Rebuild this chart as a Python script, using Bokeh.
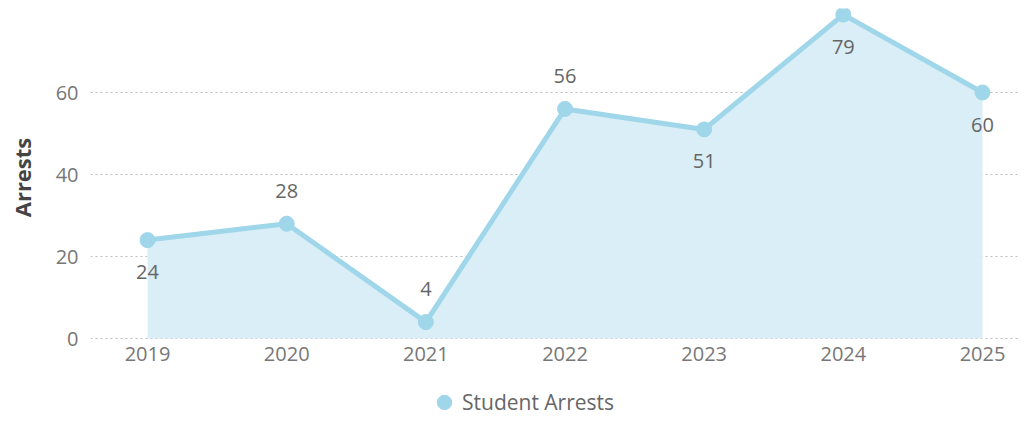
from bokeh.plotting import figure
from bokeh.layouts import column
from bokeh.models import ColumnDataSource, Range1d, FixedTicker, Legend, LegendItem
from bokeh.core.properties import value
from bokeh.embed import file_html
from bokeh.resources import INLINE

years = [2019, 2020, 2021, 2022, 2023, 2024, 2025]
arrests = [24, 28, 4, 56, 51, 79, 60]
series_name = "Student Arrests"
y_ticks = [0, 20, 40, 60]
label_side = ["below", "above", "above", "above", "below", "below", "below"]

FONT = "Open Sans"
LINE = "#9fd6ea"
FILL = "#d9eef6"

src = ColumnDataSource(dict(
    x=years, y=arrests, base=[0] * len(years),
    lab=[str(v) for v in arrests],
    off=[32 if s == "below" else -33 for s in label_side],
))

p = figure(width=1027, height=374, output_backend="svg", toolbar_location=None,
           x_range=Range1d(2018.59, 2025.273), y_range=Range1d(-1.95, 80.49),
           min_border_left=90, min_border_right=7, min_border_top=8, min_border_bottom=28)
p.outline_line_color = None
p.background_fill_color = "white"
p.border_fill_color = "white"

p.varea(x="x", y1="base", y2="y", source=src, fill_color=FILL, fill_alpha=1)
p.line(x="x", y="y", source=src, line_color=LINE, line_width=5)
p.scatter(x="x", y="y", source=src, size=15, fill_color=LINE, line_color=LINE)
p.text(x="x", y="y", text="lab", source=src, y_offset="off",
       text_align="center", text_baseline="middle", text_font=value(FONT),
       text_font_size="20px", text_color="#666666")

# grid
p.xgrid.visible = False
p.ygrid.ticker = FixedTicker(ticks=y_ticks)
p.ygrid.grid_line_color = "#bdbdbd"
p.ygrid.grid_line_dash = "2 3"
p.ygrid.grid_line_width = 1

# axes
p.xaxis.ticker = FixedTicker(ticks=years)
p.yaxis.ticker = FixedTicker(ticks=y_ticks)
for ax in (p.xaxis[0], p.yaxis[0]):
    ax.axis_line_color = None
    ax.major_tick_line_color = None
    ax.minor_tick_line_color = None
    ax.major_tick_in = 0
    ax.major_tick_out = 0
    ax.minor_tick_in = 0
    ax.minor_tick_out = 0
    ax.major_label_text_font = FONT
    ax.major_label_text_font_size = "20px"
    ax.major_label_text_color = "#777777"
p.xaxis.major_label_standoff = 0
p.yaxis.major_label_standoff = 12
p.yaxis.axis_label = "Arrests"
p.yaxis.axis_label_text_font = FONT
p.yaxis.axis_label_text_font_size = "22px"
p.yaxis.axis_label_text_font_style = "bold"
p.yaxis.axis_label_text_color = "#444444"
p.yaxis.axis_label_standoff = 16

# legend strip below the chart (series drawn out of view; only its legend shows)
lg = figure(width=1027, height=42, output_backend="svg", toolbar_location=None,
            x_range=Range1d(0, 1), y_range=Range1d(0, 1),
            min_border_left=0, min_border_right=0, min_border_top=0, min_border_bottom=0)
lg.outline_line_color = None
lg.axis.visible = False
lg.grid.visible = False
proxy = lg.scatter(x="x", y="y", source=src, size=15, fill_color=LINE, line_color=LINE)

legend = Legend(items=[LegendItem(label=series_name, renderers=[proxy])],
                location=(336, -4), orientation="horizontal",
                glyph_width=36, glyph_height=36, label_standoff=-6,
                padding=0, margin=0, spacing=0,
                border_line_color=None, background_fill_alpha=0,
                label_text_font=FONT, label_text_font_size="21px",
                label_text_color="#666666", label_text_baseline="middle")
lg.add_layout(legend, "center")

layout = column(p, lg, spacing=0)
open("out.html", "w").write(file_html(layout, INLINE))
